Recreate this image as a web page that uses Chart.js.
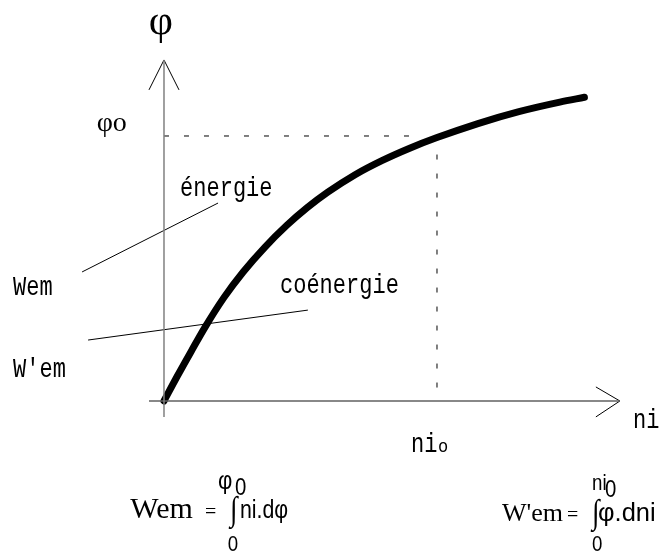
<!DOCTYPE html>
<html><head><meta charset="utf-8">
<script src="https://cdn.jsdelivr.net/npm/chart.js@4"></script>
<style>html,body{margin:0;padding:0;background:#fff;}#wrap{width:659px;height:554px;}</style>
</head><body><div id="wrap"><canvas id="c" width="659" height="554"></canvas></div>
<script>
// Magnetisation curve φ(ni), in units where ni0 = 1 and φ0 = 1
const niValues  = [0, 0.05, 0.10, 0.15, 0.22, 0.29, 0.37, 0.45, 0.525, 0.60, 0.70, 0.80, 0.90, 1.00, 1.15, 1.30, 1.45, 1.54];
const phiValues = [0, 0.096, 0.188, 0.278, 0.391, 0.487, 0.581, 0.663, 0.730, 0.788, 0.854, 0.908, 0.954, 0.994, 1.047, 1.092, 1.128, 1.146];
const ni0 = 1.0;
const phi0 = 1.0;
const xRange = [-0.6007, 1.8132];
const yRange = [-0.5774, 1.5132];
// axis extents (data units)
const xAxisEnds = [-0.055, 1.670];
const yAxisEnds = [-0.06, 1.287];
// leader lines from the labels to the areas
const energyLeaderX = [-0.300, 0.198];
const energyLeaderY = [0.487, 0.747];
const coenergyLeaderX = [-0.278, 0.527];
const coenergyLeaderY = [0.230, 0.343];

const mono = '22px "Liberation Mono", "DejaVu Sans Mono", monospace';
const serif = '"Liberation Serif", "Times New Roman", serif';
const sans = '"Liberation Sans", Arial, sans-serif';

const labels = [
  {text:'φ', x:-0.011, y:1.385, font:'42px '+serif, align:'center'},
  {text:'φo', x:-0.136, y:1.019, font:'28px '+serif, align:'right'},
  {text:'énergie', x:0.059, y:0.774, font:mono, sy:1.25},
  {text:'Wem', x:-0.553, y:0.40, font:mono, sy:1.25},
  {text:'coénergie', x:0.425, y:0.408, font:mono, sy:1.25},
  {text:"W'em", x:-0.553, y:0.091, font:mono, sy:1.25},
  {text:'ni', x:1.718, y:-0.102, font:mono, sy:1.25},
  {text:'ni', x:0.905, y:-0.192, font:mono, sy:1.25},
  {text:'o', x:1.004, y:-0.192, font:'17px "Liberation Mono", monospace', sy:1.1},
  // formula left
  {text:'Wem', x:0.106, y:-0.442, font:'30px '+serif, align:'right'},
  {text:'=', x:0.150, y:-0.442, font:'20px '+serif},
  {text:'∫', x:0.242, y:-0.449, font:'34px '+serif, sx:0.8},
  {text:'ni.dφ', x:0.278, y:-0.442, font:'26px '+sans, sx:0.82},
  {text:'φ', x:0.198, y:-0.332, font:'26px '+sans, sx:0.85},
  {text:'0', x:0.260, y:-0.355, font:'24px '+sans, sx:0.85},
  {text:'0', x:0.234, y:-0.566, font:'22px '+sans, sx:0.85},
  // formula right
  {text:"W'em", x:1.238, y:-0.453, font:'26px '+serif},
  {text:'=', x:1.476, y:-0.453, font:'20px '+serif},
  {text:'∫', x:1.568, y:-0.460, font:'34px '+serif, sx:0.8},
  {text:'φ.dni', x:1.590, y:-0.453, font:'26px '+sans, sx:0.98},
  {text:'ni', x:1.568, y:-0.336, font:'22px '+sans, sx:0.85},
  {text:'0', x:1.615, y:-0.362, font:'24px '+sans, sx:0.85},
  {text:'0', x:1.568, y:-0.566, font:'22px '+sans, sx:0.85}
];

const textPlugin = {
  id:'texts',
  afterDatasetsDraw(chart){
    const ctx = chart.ctx, xs = chart.scales.x, ys = chart.scales.y;
    labels.forEach(l=>{
      const px = xs.getPixelForValue(l.x), py = ys.getPixelForValue(l.y);
      ctx.save();
      ctx.translate(px, py);
      ctx.scale(l.sx||1, l.sy||1);
      ctx.font = l.font; ctx.fillStyle = '#000';
      ctx.textAlign = l.align||'left'; ctx.textBaseline = 'alphabetic';
      ctx.fillText(l.text, 0, 0);
      ctx.restore();
    });
  }
};

const pts = (xs, ys) => xs.map((v,i)=>({x:v, y:ys[i]}));
const xSpan = xAxisEnds[1];
const ySpan = yAxisEnds[1];
const base = {showLine:true, pointRadius:0, borderColor:'#000', borderWidth:1, fill:false, tension:0};

const datasets = [
  {...base, data: pts([0,0],[yAxisEnds[0], ySpan]), borderColor:'#808080', borderWidth:1.5},
  {...base, data: pts([xAxisEnds[0], xSpan],[0,0]), borderColor:'#606060', borderWidth:1.5},
  // arrow heads
  {...base, data: pts([-0.055, 0, 0.055],[1.174, ySpan, 1.174])},
  {...base, data: pts([1.582, xSpan, 1.582],[0.053, 0, -0.06])},
  // dashed guides at ni0 / φ0
  {...base, data: pts([0, 0.95],[phi0, phi0]), borderDash:[5,15]},
  {...base, data: pts([ni0, ni0],[0.93, 0]), borderDash:[5,14]},
  // leaders
  {...base, data: pts(energyLeaderX, energyLeaderY)},
  {...base, data: pts(coenergyLeaderX, coenergyLeaderY)},
  // curve
  {...base, data: pts(niValues, phiValues), borderWidth:7, borderCapStyle:'round', borderJoinStyle:'round', cubicInterpolationMode:'monotone'}
];

new Chart(document.getElementById('c'), {
  type:'scatter',
  data:{datasets},
  options:{
    responsive:false, animation:false, devicePixelRatio:1,
    layout:{padding:0},
    plugins:{legend:{display:false}, tooltip:{enabled:false}},
    scales:{
      x:{type:'linear', display:false, min:xRange[0], max:xRange[1]},
      y:{type:'linear', display:false, min:yRange[0], max:yRange[1]}
    }
  },
  plugins:[textPlugin]
});
</script>
</body></html>
